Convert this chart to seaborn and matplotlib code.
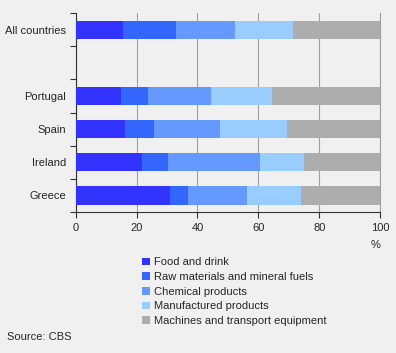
import seaborn as sns
import matplotlib.pyplot as plt
import numpy as np
import pandas as pd
from matplotlib.patches import Patch
from matplotlib.ticker import FixedLocator

# Data (share of exports, %)
countries = ['All countries', '', 'Portugal', 'Spain', 'Ireland', 'Greece']
groups = ['Food and drink', 'Raw materials and mineral fuels', 'Chemical products',
          'Manufactured products', 'Machines and transport equipment']
food = [15.5, np.nan, 14.9, 16.2, 21.8, 31.0]
raw = [17.4, np.nan, 8.8, 9.5, 8.5, 5.9]
chem = [19.4, np.nan, 20.7, 21.7, 30.2, 19.3]
manuf = [19.0, np.nan, 20.0, 22.0, 14.4, 17.8]
machines = [28.7, np.nan, 35.6, 30.6, 25.1, 26.0]
colors = ['#3333FF', '#3366FF', '#6699FF', '#99CCFF', '#ADADAD']

bg = '#F0F0F0'
sns.set_style('white')
plt.rcParams['font.family'] = ['Liberation Sans', 'DejaVu Sans']

df = pd.DataFrame({'country': countries, groups[0]: food, groups[1]: raw,
                   groups[2]: chem, groups[3]: manuf, groups[4]: machines})
slots = ['c%d' % i for i in range(len(countries))]
df['slot'] = slots
cum = df[groups].cumsum(axis=1)

fig = plt.figure(figsize=(3.96, 3.53), dpi=100, facecolor=bg)
ax = fig.add_axes([0.191, 0.3994, 0.769, 0.5636])
ax.set_facecolor(bg)

# stacked bars: draw cumulative totals from the largest down
for g, c in reversed(list(zip(groups, colors))):
    sub = pd.DataFrame({'slot': df['slot'], 'val': cum[g]}).dropna()
    sns.barplot(data=sub, x='val', y='slot', order=slots, color=c, orient='h',
                width=0.55, saturation=1, ax=ax, linewidth=0, zorder=3)

ax.set_xlim(0, 100)
ax.set_ylim(len(countries) - 0.5, -0.5)
ax.set_xticks([0, 20, 40, 60, 80, 100])
ax.set_yticks(range(len(countries)))
ax.set_yticklabels(countries)
ax.yaxis.set_minor_locator(FixedLocator(np.arange(-0.5, len(countries), 1)))
ax.tick_params(axis='y', which='major', length=0, pad=7, labelsize=8)
ax.tick_params(axis='y', which='minor', length=4, width=0.8, color='#333333', left=True)
ax.tick_params(axis='x', length=4, width=0.8, color='#333333', labelsize=8, pad=4,
               bottom=True)
ax.set_xlabel('')
ax.set_ylabel('')
ax.grid(axis='x', color='#A0A0A0', linewidth=0.8, zorder=0)
ax.grid(axis='y', visible=False)
ax.spines['top'].set_visible(False)
ax.spines['right'].set_color('#A0A0A0')
ax.spines['right'].set_linewidth(0.8)
for s in ['left', 'bottom']:
    ax.spines[s].set_color('#333333')
    ax.spines[s].set_linewidth(0.8)

fig.text(371 / 396, 1 - 245 / 353, '%', fontsize=8, ha='left', va='center')
fig.text(7 / 396, 1 - 337 / 353, 'Source: CBS', fontsize=8, ha='left', va='center')

handles = [Patch(facecolor=c, edgecolor='none') for c in colors]
fig.legend(handles, groups, loc='upper left', bbox_to_anchor=(138 / 396, 1 - 253 / 353),
           frameon=False, fontsize=8, handlelength=0.7, handleheight=0.7,
           handletextpad=0.3, labelspacing=0.42, borderaxespad=0)

fig.savefig('out.png', dpi=100, facecolor=bg)
